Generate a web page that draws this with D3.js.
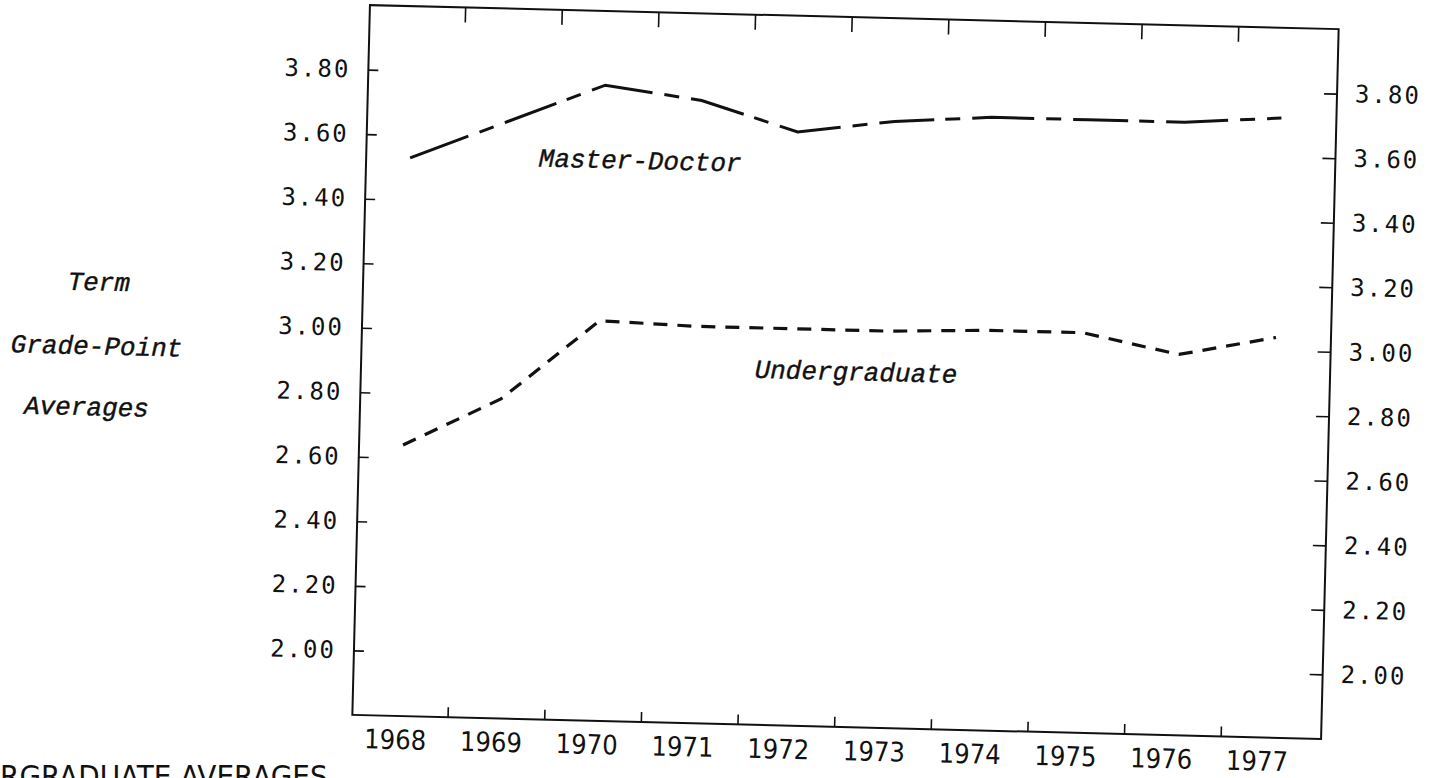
<!DOCTYPE html>
<html lang="en">
<head>
<meta charset="UTF-8" />
<title>Term Grade-Point Averages</title>
<script src="https://cdn.jsdelivr.net/npm/d3@7"></script>
<style>
  body {
    margin: 0;
    background: #fff;
    overflow: hidden;
  }

  svg {
    display: block;
    background: #fff;
  }

  .gpa-axis text {
    font-family: "DejaVu Sans Mono", monospace;
    font-size: 24px;
    letter-spacing: 2px;
    fill: #111;
  }

  .year-axis text, .caption {
    font-family: "DejaVu Sans Condensed", "DejaVu Sans", sans-serif;
    font-stretch: condensed;
    font-size: 27px;
    fill: #111;
  }

  .caption {
    font-size: 31px;
  }

  .note {
    font-family: "Liberation Mono", monospace;
    font-style: italic;
    font-size: 26px;
    fill: #111;
    stroke: #111;
    stroke-width: 0.4px;
  }

  .tick line {
    stroke: #111;
    stroke-width: 1.6px;
  }
</style>
</head>
<body>
<svg id="chart"></svg>
<script>
const years = [1968, 1969, 1970, 1971, 1972, 1973, 1974, 1975, 1976, 1977];
const masterDoctor = [3.53, 3.65, 3.77, 3.73, 3.64, 3.68, 3.70, 3.70, 3.70, 3.72];
const undergraduate = [2.64, 2.79, 3.04, 3.03, 3.03, 3.03, 3.04, 3.04, 2.98, 3.04];
const gpaTicks = [2.00, 2.20, 2.40, 2.60, 2.80, 3.00, 3.20, 3.40, 3.60, 3.80];
const yTitle = ["Term", "Grade-Point", "Averages"];

const width = 1434;
const height = 778;

// frame of the plot before the page tilt
const frameLeft = 361, frameRight = 1330, frameTop = 17, frameBottom = 727;

const svg = d3.select("#chart")
  .attr("width", width)
  .attr("height", height);

// the scanned page is a little tilted
const page = svg.append("g")
  .attr("transform", "rotate(1.42 845 372)");

const x = d3.scaleLinear().domain([1968, 1977]).range([405, 1275]);
const xLabel = d3.scaleLinear().domain([1968, 1977]).range([404, 1266]);
const y = d3.scaleLinear().domain([1.8, 4.0]).range([frameBottom, frameTop]);

// year ticks sit between the years
const yearTicks = years.slice(0, -1).map(d => d + 0.53);

page.append("g")
  .attr("class", "gpa-axis")
  .attr("transform", `translate(${frameLeft},0)`)
  .call(d3.axisLeft(y).tickValues(gpaTicks).tickSizeInner(-10).tickSizeOuter(0)
    .tickPadding(18).tickFormat(d3.format(".2f")))
  .call(g => g.select(".domain").remove());

page.append("g")
  .attr("class", "gpa-axis")
  .attr("transform", `translate(${frameRight},0)`)
  .call(d3.axisRight(y).tickValues(gpaTicks).tickSizeInner(-13).tickSizeOuter(0)
    .tickPadding(18).tickFormat(d3.format(".2f")))
  .call(g => g.select(".domain").remove());

page.append("g")
  .attr("transform", `translate(0,${frameBottom})`)
  .call(d3.axisBottom(x).tickValues(yearTicks).tickSizeInner(-10).tickSizeOuter(0).tickFormat(""))
  .call(g => g.select(".domain").remove());

page.append("g")
  .attr("transform", `translate(0,${frameTop})`)
  .call(d3.axisTop(x).tickValues(yearTicks).tickSizeInner(-15).tickSizeOuter(0).tickFormat(""))
  .call(g => g.select(".domain").remove());

page.append("g")
  .attr("class", "year-axis")
  .attr("transform", `translate(0,${frameBottom})`)
  .call(d3.axisBottom(xLabel).tickValues(years).tickSize(0).tickPadding(14).tickFormat(d3.format("d")))
  .call(g => g.select(".domain").remove());

page.append("rect")
  .attr("x", frameLeft)
  .attr("y", frameTop)
  .attr("width", frameRight - frameLeft)
  .attr("height", frameBottom - frameTop)
  .attr("fill", "none")
  .attr("stroke", "#111")
  .attr("stroke-width", 2);

const line = d3.line()
  .x((d, i) => x(years[i]))
  .y(d => y(d));

page.append("path")
  .datum(masterDoctor)
  .attr("d", line)
  .attr("fill", "none")
  .attr("stroke", "#111")
  .attr("stroke-width", 3)
  .attr("stroke-dasharray", "62 12 15 12 55 11 15 12");

page.append("path")
  .datum(undergraduate)
  .attr("d", line)
  .attr("fill", "none")
  .attr("stroke", "#111")
  .attr("stroke-width", 3.2)
  .attr("stroke-dasharray", "14 10");

page.append("text")
  .attr("class", "note")
  .attr("x", 635)
  .attr("y", 165)
  .attr("dy", "0.35em")
  .attr("text-anchor", "middle")
  .text("Master-Doctor");

page.append("text")
  .attr("class", "note")
  .attr("x", 856)
  .attr("y", 371)
  .attr("dy", "0.35em")
  .attr("text-anchor", "middle")
  .text("Undergraduate");

// y title lines, right ends
const titleEnds = [[128, 309], [182, 373], [150, 434]];
page.selectAll(".ytitle")
  .data(yTitle)
  .enter()
  .append("text")
  .attr("class", "note ytitle")
  .attr("x", (d, i) => titleEnds[i][0])
  .attr("y", (d, i) => titleEnds[i][1])
  .attr("text-anchor", "end")
  .text(d => d);

svg.append("text")
  .attr("class", "caption")
  .attr("x", 0)
  .attr("y", 787)
  .text("RGRADUATE AVERAGES");
</script>
</body>
</html>
